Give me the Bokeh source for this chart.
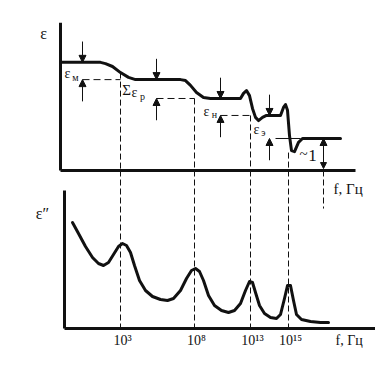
from bokeh.plotting import figure
from bokeh.models import Range1d, Arrow, NormalHead
from bokeh.core.properties import value
from bokeh.embed import file_html
from bokeh.resources import INLINE

# ---- data (schematic frequency position x, permittivity in arbitrary units) ----
# real part eps'
eps1_x = [60, 100, 105, 112, 120, 128, 135, 145, 180, 185, 190, 196, 203, 210, 240, 243, 246, 249,
          252, 255, 258, 262, 266, 280, 283, 285, 287, 289, 291, 294, 298, 302, 340]
eps1_y = [3.38, 3.38, 3.34, 3.25, 3.06, 2.91, 2.84, 2.84, 2.84, 2.81, 2.66, 2.44, 2.28, 2.25, 2.25, 2.41,
          2.50, 2.34, 1.94, 1.66, 1.56, 1.66, 1.72, 1.72, 1.97, 2.06, 1.88, 1.09, 0.62, 0.59, 0.88, 1.0, 1.0]
# imaginary part eps''
eps2_x = [72, 78, 85, 92, 98, 103, 108, 113, 118, 122, 126, 130, 134, 139, 145, 152, 160, 167, 173, 180,
          186, 191, 195, 199, 203, 208, 214, 221, 228, 234, 240, 245, 249, 252, 255, 259, 264, 270, 276,
          280, 284, 287, 290, 293, 296, 301, 310, 320, 328]
eps2_y = [5.3, 4.75, 4.1, 3.55, 3.25, 3.15, 3.3, 3.7, 4.1, 4.25, 4.15, 3.8, 3.15, 2.4, 1.9, 1.6, 1.45, 1.4,
          1.5, 1.9, 2.5, 2.9, 3.0, 2.85, 2.4, 1.65, 1.15, 0.9, 0.8, 0.9, 1.25, 1.9, 2.35, 2.3, 1.8, 1.15,
          0.75, 0.55, 0.5, 0.7, 1.5, 2.15, 2.15, 1.4, 0.7, 0.45, 0.35, 0.3, 0.3]

# relaxation frequencies (schematic positions) and tick labels
relax_x = [120, 194, 250, 288]
relax_top = [3.06, 2.25, 1.72, 0.56]
tick_labels = ["10³", "10⁸", "10¹³", "10¹⁵"]

# contributions (arrows): position, upper level, lower level
step_x = [82, 156, 220, 269]
step_hi = [3.38, 2.84, 2.25, 1.72]
step_lo = [2.84, 2.25, 1.72, 1.0]
step_end = [120, 194, 250, 300]
eps_inf_x = 323
eps_inf = 1.0

# axis extents
ax1_x = [60, 355]
ax1_ytop = 4.62
ax2_x = [64, 378]
ax2_ytop = 6.9

FONT = value("Liberation Serif")
INK = "#111111"

p = figure(width=375, height=349, x_range=Range1d(0, 375), y_range=Range1d(-5.594, 5.3125),
           x_axis_type=None, y_axis_type=None, toolbar_location=None, output_backend="svg",
           min_border=0, outline_line_color=None)
p.extra_y_ranges = {"e2": Range1d(-1.05, 16.4)}
p.xgrid.visible = False
p.ygrid.visible = False

# axes (top panel)
p.line([ax1_x[0], ax1_x[0]], [0, ax1_ytop], line_width=3, color=INK)
p.line(ax1_x, [0, 0], line_width=3, color=INK)
# axes (bottom panel)
p.line([ax2_x[0], ax2_x[0]], [0, ax2_ytop], line_width=3, color=INK, y_range_name="e2")
p.line(ax2_x, [0, 0], line_width=3, color=INK, y_range_name="e2")

# vertical dashed lines through both panels
p.segment(relax_x, relax_top, relax_x, [0] * 4, line_width=1, line_dash="6 3", color=INK)
p.segment(relax_x, [7.9] * 4, relax_x, [0] * 4, line_width=1, line_dash="6 3", color=INK,
          y_range_name="e2")
p.segment([eps_inf_x], [0], [eps_inf_x], [-1.19], line_width=1, line_dash="6 3", color=INK)

# horizontal dashed level lines
p.segment(step_x[:3], step_lo[:3], step_end[:3], step_lo[:3], line_width=1, line_dash="7 4", color=INK)
p.segment([step_x[3] + 6], [step_lo[3]], [step_end[3]], [step_lo[3]], line_width=1, color=INK)

# curves
p.line(eps1_x, eps1_y, line_width=3, color=INK, line_join="round", line_cap="round")
p.line(eps2_x, eps2_y, line_width=3, color=INK, line_join="round", line_cap="round", y_range_name="e2")

# arrows
for x, hi, lo in zip(step_x, step_hi, step_lo):
    p.add_layout(Arrow(x_start=x, y_start=hi + 0.65, x_end=x, y_end=hi, line_width=1, line_color=INK,
                       end=NormalHead(size=7, fill_color=INK, line_color=INK)))
    p.add_layout(Arrow(x_start=x, y_start=lo - 0.68, x_end=x, y_end=lo, line_width=1, line_color=INK,
                       end=NormalHead(size=7, fill_color=INK, line_color=INK)))
p.add_layout(Arrow(x_start=eps_inf_x, y_start=0.06, x_end=eps_inf_x, y_end=eps_inf, line_width=1,
                   line_color=INK, end=NormalHead(size=7, fill_color=INK, line_color=INK),
                   start=NormalHead(size=6, fill_color=INK, line_color=INK)))

def txt(x, y, s, size, rng="default", align="center"):
    kw = {} if rng == "default" else {"y_range_name": rng}
    p.text([x], [y], text=[s], text_font=FONT, text_font_size=size, text_align=align,
           text_baseline="middle", text_color=INK, **kw)

# axis labels
txt(43, 4.28, "ε", "16px")
txt(42, 5.75, "ε″", "16px", "e2")
txt(333, -0.59, "f, Гц", "15px", align="left")
txt(335, -0.62, "f, Гц", "14px", "e2", align="left")

# tick labels
p.text([x + 2 for x in relax_x], [-0.62] * 4, text=tick_labels, text_font=FONT, text_font_size="14px",
       text_align="center", text_baseline="middle", text_color=INK, y_range_name="e2")

# contribution labels
txt(67, 3.03, "ε", "14px")
txt(75, 2.9, "м", "10px")
txt(126, 2.5, "Σ", "15px")
txt(134, 2.44, "ε", "14px")
txt(142, 2.3, "р", "10px")
txt(206, 1.84, "ε", "14px")
txt(214, 1.76, "н", "10px")
txt(256, 1.28, "ε", "14px")
txt(263, 1.2, "э", "10px")
txt(303, 0.52, "~", "15px")
txt(312, 0.47, "1", "17px")

open("out.html", "w").write(file_html(p, INLINE))
